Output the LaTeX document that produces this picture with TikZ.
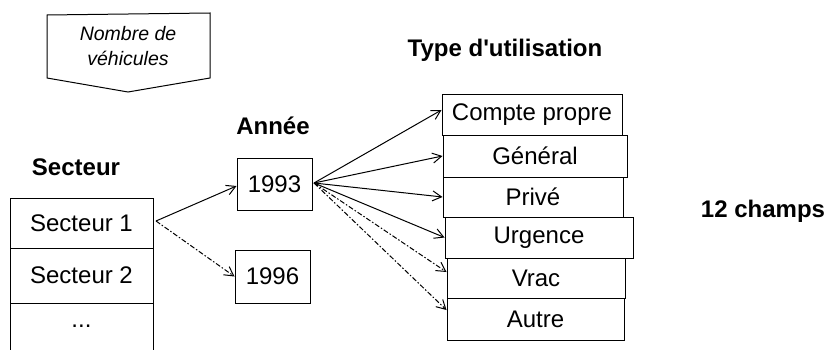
\documentclass[tikz,border=0pt]{standalone}
\usepackage{fontspec}
\setmainfont{Liberation Sans}[Ligatures=TeXOff]
\usetikzlibrary{arrows.meta}
\begin{document}
\begin{tikzpicture}[x=1pt,y=-1pt, line width=1pt,
  cell/.style={draw, inner sep=0pt, font=\fontsize{24}{28}\selectfont},
  title/.style={anchor=base, inner sep=0pt, font=\fontsize{24}{28}\selectfont\bfseries},
  arr/.style={-{Straight Barb[length=9pt,width=10pt]}},
  dasharr/.style={arr, dash pattern=on 5pt off 2pt on 1.5pt off 2pt}]
\useasboundingbox (0,0) rectangle (829,350);

% pentagon label
\draw (47,15) -- (210,13) -- (210,78) -- (128,92) -- (47,78) -- cycle;
\node[align=center, font=\fontsize{19.5}{25}\itshape] (nb) at (128,46) {Nombre de\\véhicules};

% titles
\node[title] (tsec) at (76,175) {Secteur};
\node[title] (tan) at (273,135) {Année};
\node[title] (tty) at (505,57) {Type d'utilisation};
\node[title] (tch) at (763,217) {12 champs};

% secteur table
\node[cell, minimum width=143pt, minimum height=50pt] (s1) at (81.5,223) {Secteur 1};
\node[cell, minimum width=143pt, minimum height=55pt] (s2) at (81.5,275.5) {Secteur 2};
\draw (10,303) -- (10,350) (153,303) -- (153,350);
\node[font=\fontsize{24}{28}\selectfont] (s3) at (81.5,326) {...};

% years
\node[cell, minimum width=75pt, minimum height=52pt] (y93) at (274.5,184) {1993};
\node[cell, minimum width=75pt, minimum height=53pt] (y96) at (272.5,276.5) {1996};

% types
\node[cell, minimum width=180pt, minimum height=40pt] (cp) at (532,115) {Compte propre};
\node[cell, minimum width=184pt, minimum height=42pt] (gen) at (535,156) {Général};
\node[cell, minimum width=180pt, minimum height=40pt] (pri) at (533,197) {Privé};
\node[cell, minimum width=188pt, minimum height=41pt] (urg) at (539,237.5) {Urgence};
\node[cell, minimum width=178pt, minimum height=40pt] (vrac) at (536,278) {Vrac};
\node[cell, minimum width=177pt, minimum height=42pt] (autre) at (535.5,319) {Autre};

% arrows
\coordinate (o1) at (156,221);
\draw[arr] (o1) -- ([yshift=-2pt]y93.west);
\draw[dasharr] (o1) -- (y96.west);

\coordinate (o2) at (314,183);
\draw[arr] (o2) -- ([yshift=5pt]cp.west);
\draw[arr] (o2) -- (gen.west);
\draw[arr] (o2) -- (pri.west);
\draw[arr] (o2) -- (urg.west);
\draw[dasharr] (o2) -- ([yshift=6pt]vrac.west);
\draw[dasharr] (o2) -- ([yshift=9pt]autre.west);
\end{tikzpicture}
\end{document}
